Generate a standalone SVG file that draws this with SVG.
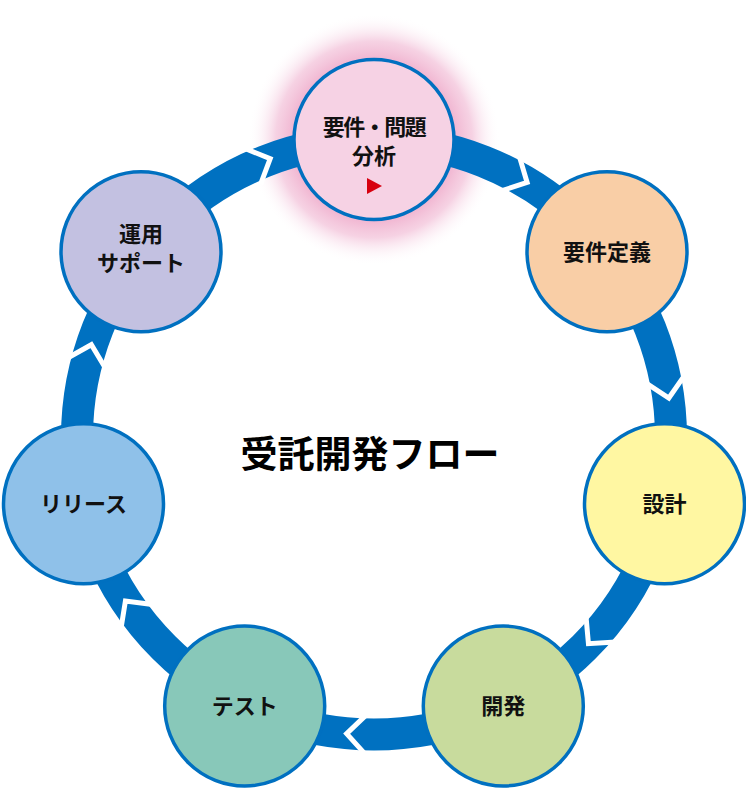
<svg xmlns="http://www.w3.org/2000/svg" width="746" height="790" viewBox="0 0 746 790">
<defs>
<radialGradient id="glow" cx="374" cy="139.5" r="126" gradientUnits="userSpaceOnUse">
<stop offset="0.6" stop-color="#efaccb" stop-opacity="1"/>
<stop offset="0.78" stop-color="#f3c3da" stop-opacity="0.75"/>
<stop offset="1" stop-color="#ffffff" stop-opacity="0"/>
</radialGradient>
<polyline id="chev" points="372,121 391,140.5 372,160" fill="none" stroke="#ffffff" stroke-width="5" stroke-linejoin="miter"/>
</defs>
<style>
.node{stroke:#0070c0;stroke-width:3.5}
.lbl{font-family:"Noto Sans CJK JP","Noto Sans",sans-serif;font-weight:bold;font-size:22px;fill:#111;text-anchor:middle}
.title{font-family:"Noto Sans CJK JP","Noto Sans",sans-serif;font-weight:bold;font-size:37px;fill:#000;text-anchor:middle}
</style>
<rect width="746" height="790" fill="#ffffff"/>
<circle cx="374" cy="139.5" r="126" fill="url(#glow)"/>
<g id="connectors">
<circle cx="374" cy="437.5" r="297" fill="none" stroke="#0071c1" stroke-width="32"/>
</g>
<g id="n1">
<circle class="node" cx="374" cy="139.5" r="80" fill="#f6d2e4"/>
<text class="lbl" x="374" y="135" letter-spacing="-1.5">要件・問題</text>
<text class="lbl" x="374" y="164">分析</text>
<polygon points="367,178 382,186 367,194" fill="#d7000f"/>
</g>
<g id="n2">
<circle class="node" cx="607" cy="251.7" r="80" fill="#f9cea6"/>
<text class="lbl" x="607" y="259.5">要件定義</text>
</g>
<g id="n3">
<circle class="node" cx="664.5" cy="503.8" r="80" fill="#fff7a2"/>
<text class="lbl" x="664.5" y="511.5">設計</text>
</g>
<g id="n4">
<circle class="node" cx="503.3" cy="706" r="80" fill="#c8db9d"/>
<text class="lbl" x="503.3" y="714">開発</text>
</g>
<g id="n5">
<circle class="node" cx="244.7" cy="706" r="80" fill="#88c8b9"/>
<text class="lbl" x="244.7" y="714">テスト</text>
</g>
<g id="n6">
<circle class="node" cx="83.5" cy="503.8" r="80" fill="#8fc1e9"/>
<text class="lbl" x="83.5" y="511.5">リリース</text>
</g>
<g id="n7">
<circle class="node" cx="141" cy="251.7" r="80" fill="#c3c1e1"/>
<text class="lbl" x="141" y="242">運用</text>
<text class="lbl" x="141" y="271">サポート</text>
</g>
<g id="chevrons">
<use href="#chev" transform="rotate(27.7 374 437.5)"/>
<use href="#chev" transform="rotate(79.1 374 437.5)"/>
<use href="#chev" transform="rotate(130.6 374 437.5)"/>
<use href="#chev" transform="rotate(182 374 437.5)"/>
<use href="#chev" transform="rotate(233.4 374 437.5)"/>
<use href="#chev" transform="rotate(284.9 374 437.5)"/>
<use href="#chev" transform="rotate(336.3 374 437.5)"/>
</g>
<text class="title" x="370" y="468">受託開発フロー</text>
</svg>
